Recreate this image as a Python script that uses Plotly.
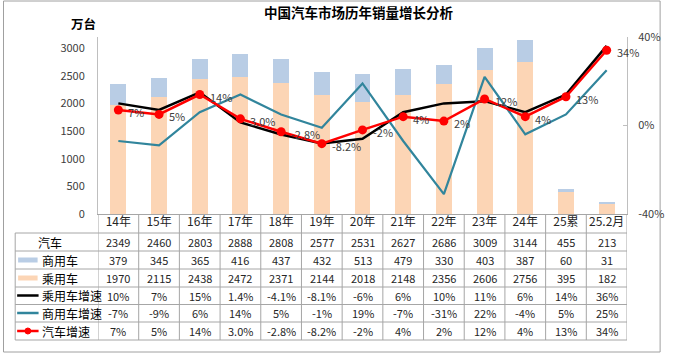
import plotly.graph_objects as go

categories = ["14年", "15年", "16年", "17年", "18年", "19年", "20年", "21年", "22年", "23年", "24年", "25累", "25.2月"]
total = [2349, 2460, 2803, 2888, 2808, 2577, 2531, 2627, 2686, 3009, 3144, 455, 213]
commercial = [379, 345, 365, 416, 437, 432, 513, 479, 330, 403, 387, 60, 31]
passenger = [1970, 2115, 2438, 2472, 2371, 2144, 2018, 2148, 2356, 2606, 2756, 395, 182]
passenger_growth = [0.10, 0.07, 0.15, 0.014, -0.041, -0.081, -0.06, 0.06, 0.10, 0.11, 0.06, 0.14, 0.36]
commercial_growth = [-0.07, -0.09, 0.06, 0.14, 0.05, -0.01, 0.19, -0.07, -0.31, 0.22, -0.04, 0.05, 0.25]
total_growth = [0.07, 0.05, 0.14, 0.030, -0.028, -0.082, -0.02, 0.04, 0.02, 0.12, 0.04, 0.13, 0.34]
passenger_growth_labels = ["10%", "7%", "15%", "1.4%", "-4.1%", "-8.1%", "-6%", "6%", "10%", "11%", "6%", "14%", "36%"]
commercial_growth_labels = ["-7%", "-9%", "6%", "14%", "5%", "-1%", "19%", "-7%", "-31%", "22%", "-4%", "5%", "25%"]
total_growth_labels = ["7%", "5%", "14%", "3.0%", "-2.8%", "-8.2%", "-2%", "4%", "2%", "12%", "4%", "13%", "34%"]
row_names = ["汽车", "商用车", "乘用车", "乘用车增速", "商用车增速", "汽车增速"]

W, H = 676, 354
L, R, T, B = 98, 641, 37, 214  # plot area in pixels
FONT = "Noto Sans CJK SC"
C_PASS = "#FCD5B5"
C_COMM = "#B9CDE5"
C_TEAL = "#31859C"
C_RED = "#FF0000"
GRID = "#A6A6A6"


def px(xp):
    return (xp - L) / (R - L)


def py(yp):
    return (B - yp) / (B - T)


fig = go.Figure()
fig.add_trace(go.Bar(x=categories, y=passenger, name="乘用车", marker=dict(color=C_PASS, line=dict(width=0)),
                     width=0.39, yaxis="y"))
fig.add_trace(go.Bar(x=categories, y=commercial, name="商用车", marker=dict(color=C_COMM, line=dict(width=0)),
                     width=0.39, yaxis="y"))
fig.add_trace(go.Scatter(x=categories, y=passenger_growth, mode="lines", name="乘用车增速",
                         line=dict(color="black", width=2.5), yaxis="y2"))
fig.add_trace(go.Scatter(x=categories, y=commercial_growth, mode="lines", name="商用车增速",
                         line=dict(color=C_TEAL, width=2.2), yaxis="y2"))
fig.add_trace(go.Scatter(x=categories, y=total_growth, mode="lines+markers", name="汽车增速",
                         line=dict(color=C_RED, width=2.5), marker=dict(color=C_RED, size=9), yaxis="y2"))

shapes = []
annotations = []

# data labels for the total growth line
for c, v, t in zip(categories, total_growth, total_growth_labels):
    annotations.append(dict(x=c, xref="x", y=v, yref="y2", text=t, showarrow=False, xanchor="left",
                            yanchor="middle", xshift=8, yshift=-2,
                            font=dict(family=FONT, size=11, color="#404040")))

# outer border
shapes.append(dict(type="rect", xref="paper", yref="paper", x0=px(1), x1=px(675), y0=py(1), y1=py(352),
                   line=dict(color="#A0A0A0", width=1), layer="below"))

# table horizontal lines
row_lines = [233, 251, 269, 287, 304.5, 322, 340]
for yl in row_lines:
    shapes.append(dict(type="line", xref="paper", yref="paper", x0=px(13), x1=px(R), y0=py(yl), y1=py(yl),
                       line=dict(color=GRID, width=1)))
# left column vertical line
shapes.append(dict(type="line", xref="paper", yref="paper", x0=px(13), x1=px(13), y0=py(233), y1=py(340),
                   line=dict(color=GRID, width=1)))
# category boundaries
for i in range(len(categories) + 1):
    shapes.append(dict(type="line", xref="x", yref="paper", x0=i - 0.5, x1=i - 0.5, y0=py(B), y1=py(340),
                       line=dict(color=GRID, width=1)))

# table cell values
row_centers = [242, 260, 278, 295.5, 313, 331]
rows = [
    [str(v) for v in total],
    [str(v) for v in commercial],
    [str(v) for v in passenger],
    passenger_growth_labels,
    commercial_growth_labels,
    total_growth_labels,
]
for yc, vals in zip(row_centers, rows):
    for c, v in zip(categories, vals):
        annotations.append(dict(x=c, xref="x", y=py(yc), yref="paper", text=v, showarrow=False,
                                font=dict(family=FONT, size=11, color="#262626"),
                                xanchor="center", yanchor="middle"))

# row names and legend keys
name_x = [49, 38, 38, 38, 38, 38]
for i, (yc, nm) in enumerate(zip(row_centers, row_names)):
    annotations.append(dict(x=px(name_x[i]), xref="paper", y=py(yc), yref="paper", text=nm, showarrow=False,
                            font=dict(family=FONT, size=12, color="black"),
                            xanchor="center" if i == 0 else "left", yanchor="middle"))
# swatches
shapes.append(dict(type="rect", xref="paper", yref="paper", x0=px(16), x1=px(36), y0=py(257.5), y1=py(262.5),
                   fillcolor=C_COMM, line=dict(width=0)))
shapes.append(dict(type="rect", xref="paper", yref="paper", x0=px(16), x1=px(36), y0=py(275.5), y1=py(280.5),
                   fillcolor=C_PASS, line=dict(width=0)))
shapes.append(dict(type="line", xref="paper", yref="paper", x0=px(15), x1=px(37), y0=py(295.5), y1=py(295.5),
                   line=dict(color="black", width=2.5)))
shapes.append(dict(type="line", xref="paper", yref="paper", x0=px(15), x1=px(37), y0=py(313), y1=py(313),
                   line=dict(color=C_TEAL, width=2.5)))
shapes.append(dict(type="line", xref="paper", yref="paper", x0=px(15), x1=px(37), y0=py(331), y1=py(331),
                   line=dict(color=C_RED, width=2.5)))
shapes.append(dict(type="circle", xref="paper", yref="paper", x0=px(23), x1=px(29), y0=py(328), y1=py(334),
                   fillcolor=C_RED, line=dict(color=C_RED, width=1)))

# title and unit
annotations.append(dict(x=px(366), xref="paper", y=py(12), yref="paper", text="<b>中国汽车市场历年销量增长分析</b>",
                        showarrow=False, font=dict(family=FONT, size=13.5, color="black"),
                        xanchor="center", yanchor="middle"))
annotations.append(dict(x=px(83), xref="paper", y=py(24), yref="paper", text="<b>万台</b>",
                        showarrow=False, font=dict(family=FONT, size=12.5, color="black"),
                        xanchor="center", yanchor="middle"))

fig.update_layout(
    width=W, height=H,
    margin=dict(l=L, r=W - R, t=T, b=H - B, pad=0),
    paper_bgcolor="white", plot_bgcolor="white",
    barmode="stack", bargap=0.6,
    showlegend=False,
    font=dict(family=FONT, size=11, color="#404040"),
    xaxis=dict(type="category", range=[-0.5, len(categories) - 0.5], showgrid=False, showline=True,
               linecolor=GRID, linewidth=1, ticks="", tickfont=dict(family=FONT, size=12, color="#262626"),
               ticklabelstandoff=-3, zeroline=False),
    yaxis=dict(range=[0, 3200], tickvals=[0, 500, 1000, 1500, 2000, 2500, 3000], showgrid=False,
               showline=True, linecolor="#BFBFBF", linewidth=1, ticks="", zeroline=False,
               tickfont=dict(family=FONT, size=11, color="#404040"), ticklabelstandoff=10),
    yaxis2=dict(range=[-0.4, 0.4], tickvals=[-0.4, 0, 0.4], ticktext=["-40%", "0%", "40%"], overlaying="y",
                side="right", showgrid=False, showline=True, linecolor="#BFBFBF", linewidth=1,
                ticks="inside", ticklen=4, tickcolor="#BFBFBF", zeroline=False,
                tickfont=dict(family=FONT, size=11, color="#404040"), ticklabelstandoff=8),
    shapes=shapes,
    annotations=annotations,
)

fig.write_html("out.html")
